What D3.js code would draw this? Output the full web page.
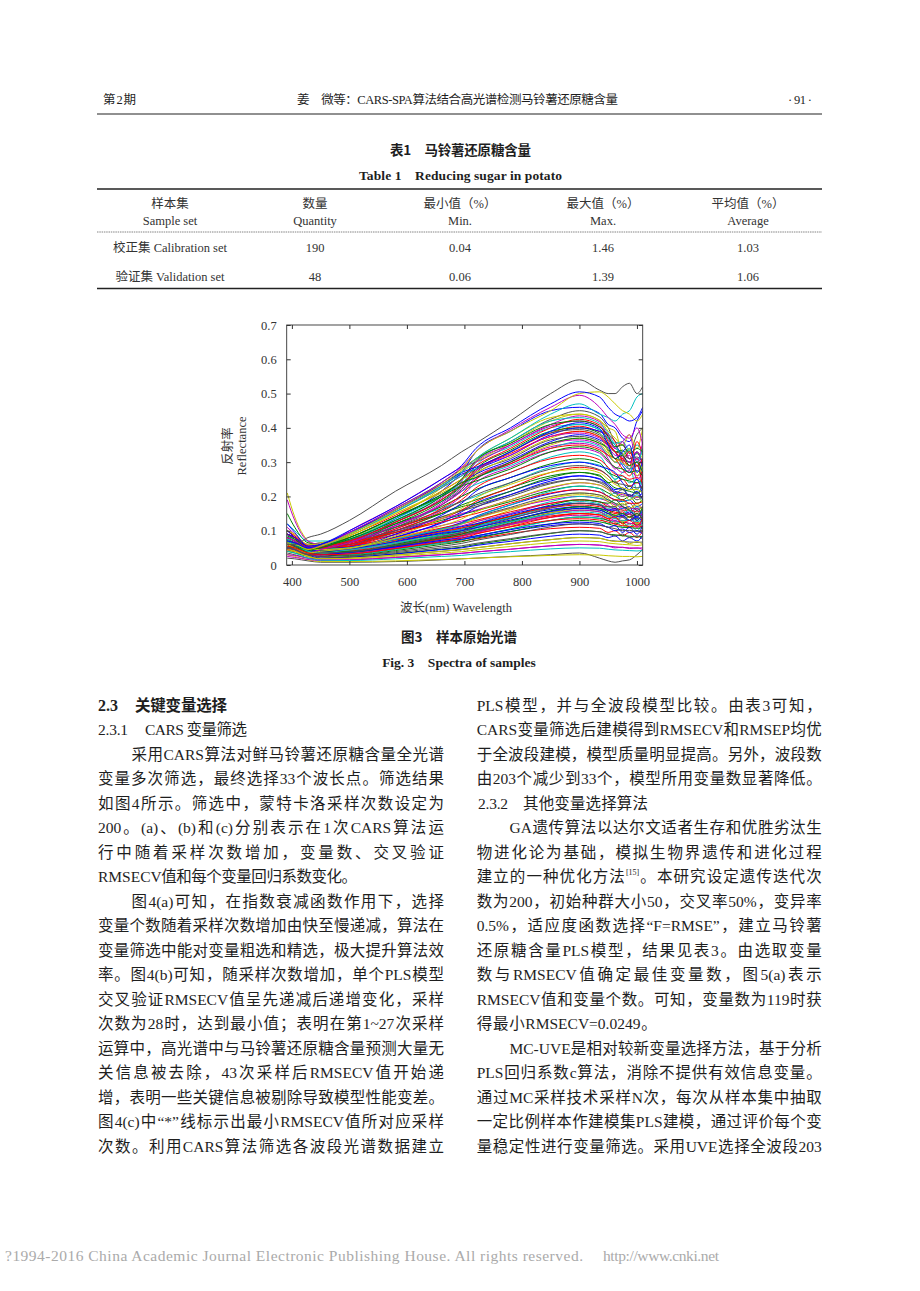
<!DOCTYPE html>
<html><head><meta charset="utf-8">
<script src="https://cdn.jsdelivr.net/npm/d3@7"></script>
<style>body{margin:0;background:#fff}svg{display:block}</style>
</head><body>
<svg id="page" width="920" height="1291"></svg>
<script>
// ---------------- data ----------------
const wavelengths = [392,405,428,450,500,580,660,695,720,780,850,900,935,950,962,975,987,1000,1010];
const xTicks = [400,500,600,700,800,900,1000];
const yTicks = [0,0.1,0.2,0.3,0.4,0.5,0.6,0.7];

const spectraUpper = [
[.09,.08,.06,.065,.075,.135,.215,.27,.33,.39,.45,.46,.442,.41,.40,.37,.36,.42,.45],
[.07,.065,.05,.06,.095,.165,.24,.28,.31,.36,.425,.45,.432,.40,.36,.35,.33,.38,.40],
[.10,.085,.06,.065,.08,.14,.225,.275,.31,.37,.43,.44,.422,.40,.39,.32,.30,.33,.31],
[.06,.055,.045,.05,.10,.17,.25,.285,.30,.35,.41,.435,.418,.37,.34,.36,.38,.30,.36],
[.12,.10,.07,.07,.07,.13,.20,.245,.30,.36,.42,.43,.413,.385,.355,.36,.335,.35,.33],
[.08,.07,.05,.055,.09,.155,.225,.26,.29,.34,.40,.425,.408,.36,.33,.31,.29,.36,.32],
[.05,.05,.04,.05,.075,.13,.20,.25,.305,.355,.41,.42,.403,.375,.345,.35,.325,.34,.33],
[.09,.08,.055,.06,.095,.16,.235,.27,.285,.33,.39,.415,.398,.35,.31,.33,.35,.27,.30],
[.07,.06,.05,.055,.07,.125,.19,.235,.29,.345,.40,.41,.394,.365,.34,.33,.335,.31,.33],
[.065,.06,.045,.05,.085,.145,.215,.25,.28,.33,.385,.405,.389,.38,.36,.30,.28,.31,.25],
[.15,.11,.065,.06,.068,.12,.185,.23,.28,.335,.39,.40,.384,.355,.33,.335,.31,.325,.30],
[.06,.055,.04,.045,.09,.16,.23,.265,.28,.32,.38,.40,.39,.37,.35,.32,.30,.33,.29],
[.08,.07,.05,.055,.072,.125,.19,.23,.27,.33,.385,.395,.379,.35,.33,.325,.31,.315,.30],
[.10,.09,.06,.06,.085,.15,.215,.25,.27,.315,.37,.39,.374,.33,.30,.32,.34,.26,.29],
[.05,.045,.035,.045,.065,.115,.18,.225,.275,.32,.375,.385,.37,.345,.32,.315,.30,.31,.29],
[.07,.065,.05,.055,.08,.14,.205,.24,.265,.305,.36,.38,.365,.35,.33,.29,.27,.30,.22],
[.09,.08,.055,.06,.06,.11,.175,.22,.265,.31,.365,.375,.36,.335,.31,.305,.30,.29,.31],
[.06,.055,.045,.05,.085,.15,.21,.24,.26,.30,.35,.37,.355,.325,.31,.30,.29,.30,.28],
[.11,.09,.06,.06,.065,.115,.175,.215,.255,.30,.355,.365,.35,.31,.28,.30,.32,.25,.27],
[.075,.07,.05,.05,.075,.135,.20,.235,.255,.29,.34,.36,.346,.32,.30,.295,.28,.29,.27],
[.06,.05,.04,.045,.06,.105,.165,.205,.25,.295,.34,.35,.336,.32,.31,.28,.26,.29,.23],
[.085,.075,.05,.055,.08,.14,.20,.23,.245,.28,.33,.345,.331,.305,.285,.28,.27,.275,.26],
[.07,.06,.045,.05,.06,.105,.16,.20,.24,.285,.33,.34,.326,.30,.285,.27,.275,.26,.27],
[.09,.08,.055,.055,.075,.13,.185,.215,.235,.27,.315,.33,.317,.28,.25,.27,.29,.22,.26],
[.05,.045,.04,.045,.055,.10,.155,.19,.225,.27,.31,.32,.307,.285,.265,.26,.25,.255,.24],
[.07,.065,.045,.05,.07,.12,.17,.20,.22,.255,.295,.31,.298,.27,.26,.25,.245,.24,.25],
[.08,.07,.05,.05,.05,.09,.145,.18,.215,.255,.29,.30,.288,.28,.27,.24,.22,.25,.20],
[.06,.055,.04,.045,.065,.11,.16,.185,.205,.24,.28,.29,.278,.26,.24,.235,.23,.225,.23],
[.065,.06,.045,.045,.05,.085,.135,.165,.195,.235,.27,.28,.269,.25,.235,.225,.22,.22,.21],
[.09,.08,.05,.05,.06,.10,.15,.175,.19,.225,.26,.27,.259,.24,.225,.22,.215,.21,.22],
[.05,.045,.035,.04,.045,.08,.125,.155,.18,.215,.25,.26,.25,.23,.215,.21,.205,.20,.21],
[.07,.06,.04,.045,.055,.095,.14,.16,.175,.205,.24,.25,.24,.225,.21,.20,.205,.19,.20],
[.08,.07,.05,.06,.09,.16,.235,.27,.30,.355,.42,.44,.422,.39,.37,.35,.38,.34,.40],
[.19,.13,.07,.06,.07,.125,.195,.245,.30,.35,.405,.42,.403,.38,.34,.36,.31,.33,.29],
[.065,.06,.045,.05,.09,.155,.225,.26,.28,.33,.39,.41,.394,.37,.35,.32,.34,.30,.34],
[.09,.08,.055,.055,.07,.125,.19,.235,.275,.325,.375,.39,.374,.35,.33,.31,.33,.29,.31],
[.07,.06,.045,.05,.08,.14,.205,.24,.255,.30,.355,.37,.355,.34,.31,.32,.29,.30,.27],
[.10,.08,.05,.05,.065,.115,.175,.215,.25,.295,.345,.355,.341,.32,.30,.31,.28,.29,.26]
];
const spectraMiddle = [
[.06,.055,.04,.045,.075,.12,.165,.185,.20,.24,.285,.30,.291,.27,.25,.26,.24,.25,.23],
[.08,.07,.045,.045,.055,.09,.135,.16,.185,.225,.27,.285,.276,.26,.24,.25,.23,.24,.22],
[.05,.045,.035,.04,.07,.11,.15,.17,.18,.215,.255,.27,.262,.24,.245,.22,.23,.21,.23],
[.07,.06,.04,.045,.05,.082,.122,.145,.168,.205,.245,.26,.252,.235,.22,.225,.20,.215,.19],
[.09,.075,.05,.045,.065,.10,.14,.158,.17,.20,.237,.25,.243,.23,.21,.22,.20,.21,.19],
[.06,.05,.035,.04,.048,.078,.114,.134,.155,.19,.227,.24,.233,.22,.20,.21,.19,.20,.18],
[.075,.065,.04,.04,.06,.095,.13,.147,.158,.185,.218,.23,.223,.21,.20,.19,.20,.18,.19],
[.05,.045,.03,.035,.045,.072,.106,.124,.142,.175,.208,.22,.213,.20,.19,.185,.19,.17,.18],
[.065,.055,.035,.04,.046,.074,.105,.122,.139,.168,.20,.21,.204,.19,.18,.175,.18,.16,.17],
[.04,.04,.03,.035,.045,.072,.103,.119,.135,.164,.195,.205,.199,.185,.17,.18,.165,.175,.155]
];
const spectraLower = [
[.07,.065,.05,.05,.07,.10,.135,.15,.16,.19,.225,.24,.233,.22,.211,.205,.202,.197,.20],
[.05,.05,.04,.045,.05,.075,.105,.12,.14,.175,.215,.23,.223,.20,.21,.185,.19,.205,.18],
[.09,.08,.05,.05,.065,.095,.125,.14,.15,.18,.21,.22,.213,.20,.19,.19,.18,.18,.185],
[.06,.055,.04,.04,.045,.068,.097,.11,.125,.16,.195,.21,.204,.195,.175,.19,.165,.18,.16],
[.08,.07,.045,.045,.06,.088,.115,.128,.138,.165,.19,.20,.194,.185,.175,.17,.165,.165,.17],
[.04,.04,.03,.035,.042,.065,.092,.105,.12,.15,.185,.20,.194,.19,.18,.16,.15,.17,.14],
[.10,.085,.055,.045,.055,.08,.108,.12,.13,.155,.18,.19,.184,.17,.165,.16,.16,.155,.16],
[.055,.05,.035,.04,.04,.06,.088,.10,.115,.142,.175,.19,.184,.18,.19,.17,.16,.14,.17],
[.07,.06,.04,.04,.052,.075,.10,.112,.12,.147,.172,.18,.175,.16,.165,.145,.155,.14,.16],
[.05,.045,.03,.035,.038,.058,.083,.095,.108,.135,.166,.18,.175,.17,.17,.14,.13,.16,.12],
[.065,.06,.04,.04,.05,.072,.097,.107,.117,.142,.167,.175,.17,.16,.154,.15,.147,.144,.147],
[.08,.07,.045,.04,.036,.055,.078,.09,.102,.128,.158,.17,.165,.15,.16,.14,.15,.13,.155],
[.045,.04,.03,.03,.048,.07,.094,.104,.113,.137,.162,.17,.165,.16,.16,.165,.17,.13,.15],
[.06,.055,.035,.035,.035,.052,.076,.086,.098,.123,.152,.165,.16,.15,.145,.14,.139,.135,.14],
[.09,.075,.045,.04,.046,.067,.09,.10,.108,.13,.153,.16,.155,.14,.145,.125,.14,.12,.13],
[.05,.045,.03,.03,.034,.05,.072,.082,.094,.118,.147,.16,.155,.14,.13,.14,.15,.11,.14],
[.07,.06,.04,.035,.045,.064,.087,.096,.104,.126,.148,.155,.15,.14,.136,.13,.13,.127,.13],
[.055,.05,.035,.03,.032,.048,.068,.078,.09,.112,.139,.15,.146,.135,.14,.12,.13,.115,.135],
[.21,.14,.07,.05,.038,.054,.075,.084,.095,.116,.14,.15,.146,.145,.14,.12,.11,.13,.10],
[.06,.05,.035,.03,.042,.06,.082,.09,.097,.118,.139,.145,.141,.13,.128,.125,.122,.119,.122],
[.08,.07,.04,.035,.03,.045,.064,.073,.084,.104,.129,.14,.136,.12,.13,.11,.12,.10,.125],
[.045,.04,.03,.03,.04,.057,.077,.085,.092,.111,.13,.135,.131,.125,.119,.115,.113,.111,.113],
[.06,.055,.035,.03,.028,.042,.06,.068,.078,.097,.12,.13,.126,.12,.114,.11,.109,.107,.109],
[.10,.08,.045,.03,.037,.053,.072,.079,.085,.103,.12,.125,.121,.11,.115,.095,.11,.09,.115],
[.05,.045,.03,.025,.026,.039,.055,.063,.072,.089,.111,.12,.116,.11,.106,.10,.101,.098,.101],
[.07,.06,.035,.025,.033,.048,.064,.07,.076,.092,.106,.11,.107,.095,.10,.085,.095,.08,.10],
[.04,.035,.025,.02,.022,.033,.046,.052,.06,.074,.092,.10,.097,.09,.088,.085,.084,.082,.084],
[.06,.05,.03,.02,.023,.032,.045,.05,.057,.069,.084,.09,.087,.08,.085,.07,.08,.07,.085],
[.035,.03,.02,.018,.02,.029,.04,.045,.05,.062,.074,.08,.078,.072,.07,.068,.067,.066,.067],
[.05,.04,.025,.018,.018,.025,.035,.039,.044,.054,.065,.07,.068,.064,.062,.06,.059,.057,.059],
[.03,.028,.02,.015,.015,.022,.03,.034,.038,.046,.056,.06,.058,.055,.053,.051,.05,.049,.05],
[.04,.035,.02,.014,.013,.018,.025,.028,.032,.039,.047,.05,.049,.046,.044,.043,.042,.041,.042],
[.02,.018,.012,.008,.008,.01,.015,.018,.02,.025,.03,.035,.02,.012,.008,.012,.015,.03,.045],
[.03,.025,.015,.01,.01,.012,.016,.018,.02,.024,.028,.03,.029,.027,.026,.025,.025,.024,.025],
[.06,.05,.035,.04,.055,.078,.104,.114,.126,.15,.18,.19,.184,.175,.16,.17,.15,.165,.14],
[.085,.07,.045,.04,.04,.06,.087,.099,.112,.139,.17,.185,.179,.165,.17,.15,.16,.145,.165],
[.045,.04,.03,.035,.05,.073,.098,.108,.118,.143,.17,.18,.175,.16,.15,.155,.14,.15,.13],
[.07,.06,.04,.04,.038,.056,.08,.09,.102,.127,.157,.17,.165,.155,.145,.15,.14,.15,.135],
[.12,.095,.05,.04,.047,.068,.092,.10,.109,.131,.156,.165,.16,.15,.14,.145,.13,.14,.125],
[.055,.05,.035,.035,.035,.052,.075,.085,.096,.12,.148,.16,.155,.145,.135,.14,.13,.135,.12],
[.065,.055,.035,.03,.044,.063,.085,.093,.10,.121,.143,.15,.146,.135,.125,.13,.12,.125,.11],
[.05,.045,.03,.03,.031,.046,.066,.074,.084,.105,.13,.14,.136,.13,.12,.125,.11,.12,.105],
[.06,.05,.03,.025,.036,.051,.069,.075,.081,.098,.115,.12,.116,.11,.10,.105,.095,.10,.09],
[.05,.04,.025,.02,.025,.036,.05,.056,.063,.077,.093,.10,.097,.09,.085,.09,.08,.085,.075],
[.045,.04,.025,.018,.02,.029,.04,.045,.05,.062,.074,.08,.078,.072,.068,.07,.062,.068,.06],
[.025,.022,.016,.013,.015,.022,.03,.034,.038,.046,.056,.06,.058,.055,.05,.052,.048,.05,.045]
];
const spectraTop = [
[.07,.06,.05,.055,.09,.155,.23,.27,.31,.37,.44,.47,.44,.43,.42,.44,.45,.49,.50],
[.08,.07,.05,.055,.095,.165,.24,.285,.33,.395,.46,.495,.46,.43,.41,.38,.37,.40,.35],
[.06,.06,.045,.055,.09,.16,.235,.28,.33,.39,.45,.50,.505,.49,.47,.45,.44,.42,.44],
[.06,.06,.08,.09,.13,.215,.29,.33,.355,.42,.50,.54,.51,.50,.50,.52,.53,.50,.52],
[.07,.065,.05,.06,.10,.17,.25,.29,.34,.40,.47,.505,.49,.46,.44,.43,.42,.43,.46]
];
const palette = ["#0000ff","#008000","#ff0000","#00bfbf","#bf00bf","#c8c800","#505050"];

const tableHeadCN = ["样本集","数量","最小值（%）","最大值（%）","平均值（%）"];
const tableHeadEN = ["Sample set","Quantity","Min.","Max.","Average"];
const tableRows = [
  ["校正集 Calibration set","190","0.04","1.46","1.03"],
  ["验证集 Validation set","48","0.06","1.39","1.06"]
];

const leftText = [
"", "",
"采用CARS算法对鲜马铃薯还原糖含量全光谱",
"变量多次筛选，最终选择33个波长点。筛选结果",
"如图4所示。筛选中，蒙特卡洛采样次数设定为",
"200。(a)、(b)和(c)分别表示在1次CARS算法运",
"行中随着采样次数增加，变量数、交叉验证",
"RMSECV值和每个变量回归系数变化。",
"图4(a)可知，在指数衰减函数作用下，选择",
"变量个数随着采样次数增加由快至慢递减，算法在",
"变量筛选中能对变量粗选和精选，极大提升算法效",
"率。图4(b)可知，随采样次数增加，单个PLS模型",
"交叉验证RMSECV值呈先递减后递增变化，采样",
"次数为28时，达到最小值；表明在第1~27次采样",
"运算中，高光谱中与马铃薯还原糖含量预测大量无",
"关信息被去除，43次采样后RMSECV值开始递",
"增，表明一些关键信息被剔除导致模型性能变差。",
"图4(c)中“*”线标示出最小RMSECV值所对应采样",
"次数。利用CARS算法筛选各波段光谱数据建立"
];
const rightText = [
"PLS模型，并与全波段模型比较。由表3可知，",
"CARS变量筛选后建模得到RMSECV和RMSEP均优",
"于全波段建模，模型质量明显提高。另外，波段数",
"由203个减少到33个，模型所用变量数显著降低。",
"",
"GA遗传算法以达尔文适者生存和优胜劣汰生",
"物进化论为基础，模拟生物界遗传和进化过程",
"建立的一种优化方法[15]。本研究设定遗传迭代次",
"数为200，初始种群大小50，交叉率50%，变异率",
"0.5%，适应度函数选择“F=RMSE”，建立马铃薯",
"还原糖含量PLS模型，结果见表3。由选取变量",
"数与RMSECV值确定最佳变量数，图5(a)表示",
"RMSECV值和变量个数。可知，变量数为119时获",
"得最小RMSECV=0.0249。",
"MC-UVE是相对较新变量选择方法，基于分析",
"PLS回归系数c算法，消除不提供有效信息变量。",
"通过MC采样技术采样N次，每次从样本集中抽取",
"一定比例样本作建模集PLS建模，通过评价每个变",
"量稳定性进行变量筛选。采用UVE选择全波段203"
];

// ---------------- drawing ----------------
const SERIF = "'Liberation Serif','Noto Sans CJK SC',serif";
const SANS = "'Noto Sans CJK SC','Liberation Sans',sans-serif";
const svg = d3.select("#page");
svg.append("rect").attr("width",920).attr("height",1291).attr("fill","#fff");

function txt(x,y,s,o={}){
  const t = svg.append("text").attr("x",x).attr("y",y)
    .attr("font-family",o.family||SERIF).attr("font-size",o.size||15.5)
    .attr("font-weight",o.weight||"normal").attr("fill",o.fill||"#1e1e1e")
    .attr("text-anchor",o.anchor||"start").text(s);
  if(o.len){ t.attr("textLength",o.len).attr("lengthAdjust","spacing"); }
  return t;
}

// header
txt(103,104,"第2期",{size:12.5,len:33});
txt(297,104,"姜　微等：CARS-SPA算法结合高光谱检测马铃薯还原糖含量",{size:12.5,len:321});
txt(788,104,"· 91 ·",{size:12.5,len:24});
svg.append("line").attr("x1",97).attr("x2",822).attr("y1",114).attr("y2",114).attr("stroke","#222").attr("stroke-width",1.2);

// table
txt(390,155,"表1　马铃薯还原糖含量",{family:SANS,weight:"bold",size:13.5,len:141});
txt(359,179.5,"Table 1　Reducing sugar in potato",{weight:"bold",size:13.5,len:203});
svg.append("line").attr("x1",97).attr("x2",822).attr("y1",189).attr("y2",189).attr("stroke","#222").attr("stroke-width",1.6);
svg.append("line").attr("x1",97).attr("x2",822).attr("y1",232).attr("y2",232).attr("stroke","#777").attr("stroke-width",0.9).attr("stroke-dasharray","1.5,0.8");
svg.append("line").attr("x1",97).attr("x2",822).attr("y1",288.5).attr("y2",288.5).attr("stroke","#222").attr("stroke-width",1.6);
const colX = [170,315,460,603,748];
tableHeadCN.forEach((s,i)=>txt(colX[i],207.5,s,{size:12.5,anchor:"middle",fill:"#333"}));
tableHeadEN.forEach((s,i)=>txt(colX[i],224.5,s,{size:12.5,anchor:"middle",fill:"#333"}));
tableRows.forEach((r,j)=>r.forEach((s,i)=>txt(colX[i],251.5+j*29,s,{size:12.5,anchor:"middle",fill:"#333"})));

// chart
const x = d3.scaleLinear().domain([391,1010]).range([286.7,642.7]);
const y = d3.scaleLinear().domain([0,0.7]).range([565,325]);
svg.append("clipPath").attr("id","plotclip").append("rect")
  .attr("x",286.7).attr("y",325).attr("width",356).attr("height",240);
const pool = [...spectraUpper, ...spectraMiddle, ...spectraLower];
const N = pool.length;
// mix the drawing order so that neighbouring spectra get unrelated colours
const allSpectra = d3.range(N).map(k => pool[(k*29) % N]).concat(spectraTop);
const line = d3.line().x((d,i)=>x(wavelengths[i])).y(d=>y(d)).curve(d3.curveMonotoneX);
svg.append("g").attr("clip-path","url(#plotclip)").selectAll("path").data(allSpectra).join("path")
  .attr("d",line).attr("fill","none").attr("stroke-width",1)
  .attr("stroke",(d,i)=>palette[i%palette.length]);

const fmtY = v => v===0 ? "0" : d3.format(".1f")(v);
const axStyle = g => { g.select(".domain").remove(); g.selectAll("line").attr("stroke","#333");
  g.selectAll("text").attr("font-family",SERIF).attr("font-size",12.5).attr("fill","#333"); };
svg.append("g").attr("transform","translate(0,565)").call(d3.axisBottom(x).tickValues(xTicks).tickSize(-4).tickPadding(12).tickFormat(d3.format("d"))).call(axStyle);
svg.append("g").attr("transform","translate(0,325)").call(d3.axisTop(x).tickValues(xTicks).tickSize(-4).tickFormat("")).call(axStyle);
svg.append("g").attr("transform","translate(286.7,0)").call(d3.axisLeft(y).tickValues(yTicks).tickSize(-4).tickPadding(10).tickFormat(fmtY)).call(axStyle);
svg.append("g").attr("transform","translate(642.7,0)").call(d3.axisRight(y).tickValues(yTicks).tickSize(-4).tickFormat("")).call(axStyle);
svg.append("rect").attr("x",286.7).attr("y",325).attr("width",356).attr("height",240)
  .attr("fill","none").attr("stroke","#333").attr("stroke-width",0.9);

txt(0,0,"反射率",{size:12.5,anchor:"middle",fill:"#333"}).attr("transform","translate(232,446) rotate(-90)");
txt(0,0,"Reflectance",{size:12.5,anchor:"middle",fill:"#333"}).attr("transform","translate(246,446) rotate(-90)");
txt(456,612,"波长(nm) Wavelength",{size:12.5,anchor:"middle",fill:"#333"});
txt(459,642,"图3　样本原始光谱",{family:SANS,weight:"bold",size:13.5,anchor:"middle"});
txt(459,667,"Fig. 3　Spectra of samples",{weight:"bold",size:13.5,anchor:"middle"});

// body text with CJK-style justification (space spread between tokens)
const BODY = 15.5;
const meas = svg.append("text").attr("font-family",SERIF).attr("font-size",BODY).attr("visibility","hidden");
function tokWidth(s,size){ meas.attr("font-size",size).text(s); return meas.node().getComputedTextLength(); }
function bodyLine(x0,yb,s,width){
  const toks = s.match(/\[15\]|[A-Za-z0-9.%~=\-\/\*\(\)“”]+|./gu);
  const info = toks.map(t=>{ const sup = t==="[15]"; return {t,sup,w:tokWidth(t, sup?8:BODY)}; });
  const total = d3.sum(info,d=>d.w);
  const gap = info.length>1 ? (width-total)/(info.length-1) : 0;
  const el = svg.append("text").attr("y",yb).attr("font-family",SERIF).attr("font-size",BODY).attr("fill","#1e1e1e");
  let cx = x0;
  info.forEach(d=>{
    const ts = el.append("tspan").attr("x",cx).attr("y", d.sup ? yb-7 : yb).text(d.t);
    if(d.sup) ts.attr("font-size",8);
    cx += d.w + gap;
  });
}
const L0 = 98, L1 = 444, R0 = 476.7, R1 = 821.7;
const lineY = k => 705 + k*24.5 + 5.5;
// headings
txt(98,lineY(0),"2.3",{weight:"bold",size:16});
txt(135,lineY(0),"关键变量选择",{family:SANS,weight:"bold",size:15.5,len:92});
txt(98,lineY(1),"2.3.1",{size:15.5,len:30});
txt(145,lineY(1),"CARS 变量筛选",{size:15.5,len:102});
txt(478,lineY(4),"2.3.2",{size:15.5,len:30});
txt(523,lineY(4),"其他变量选择算法",{size:15.5,len:125});

leftText.forEach((s,k)=>{
  if(!s) return;
  let x0 = L0, w = L1-L0;
  if(k===2||k===8){ x0 = 131.5; w = L1-x0; }
  if(k===7){ w = 259; }
  bodyLine(x0,lineY(k),s,w);
});
rightText.forEach((s,k)=>{
  if(!s) return;
  let x0 = R0, w = R1-R0;
  if(k===5||k===14){ x0 = 509.5; w = R1-x0; }
  if(k===13){ w = 180; }
  bodyLine(x0,lineY(k),s,w);
});

// footer
txt(5,1261,"?1994-2016 China Academic Journal Electronic Publishing House. All rights reserved.",{size:15.5,len:578,fill:"#aaa"});
txt(603,1261,"http://www.cnki.net",{size:15.5,len:116,fill:"#aaa"});
</script>
</body></html>
